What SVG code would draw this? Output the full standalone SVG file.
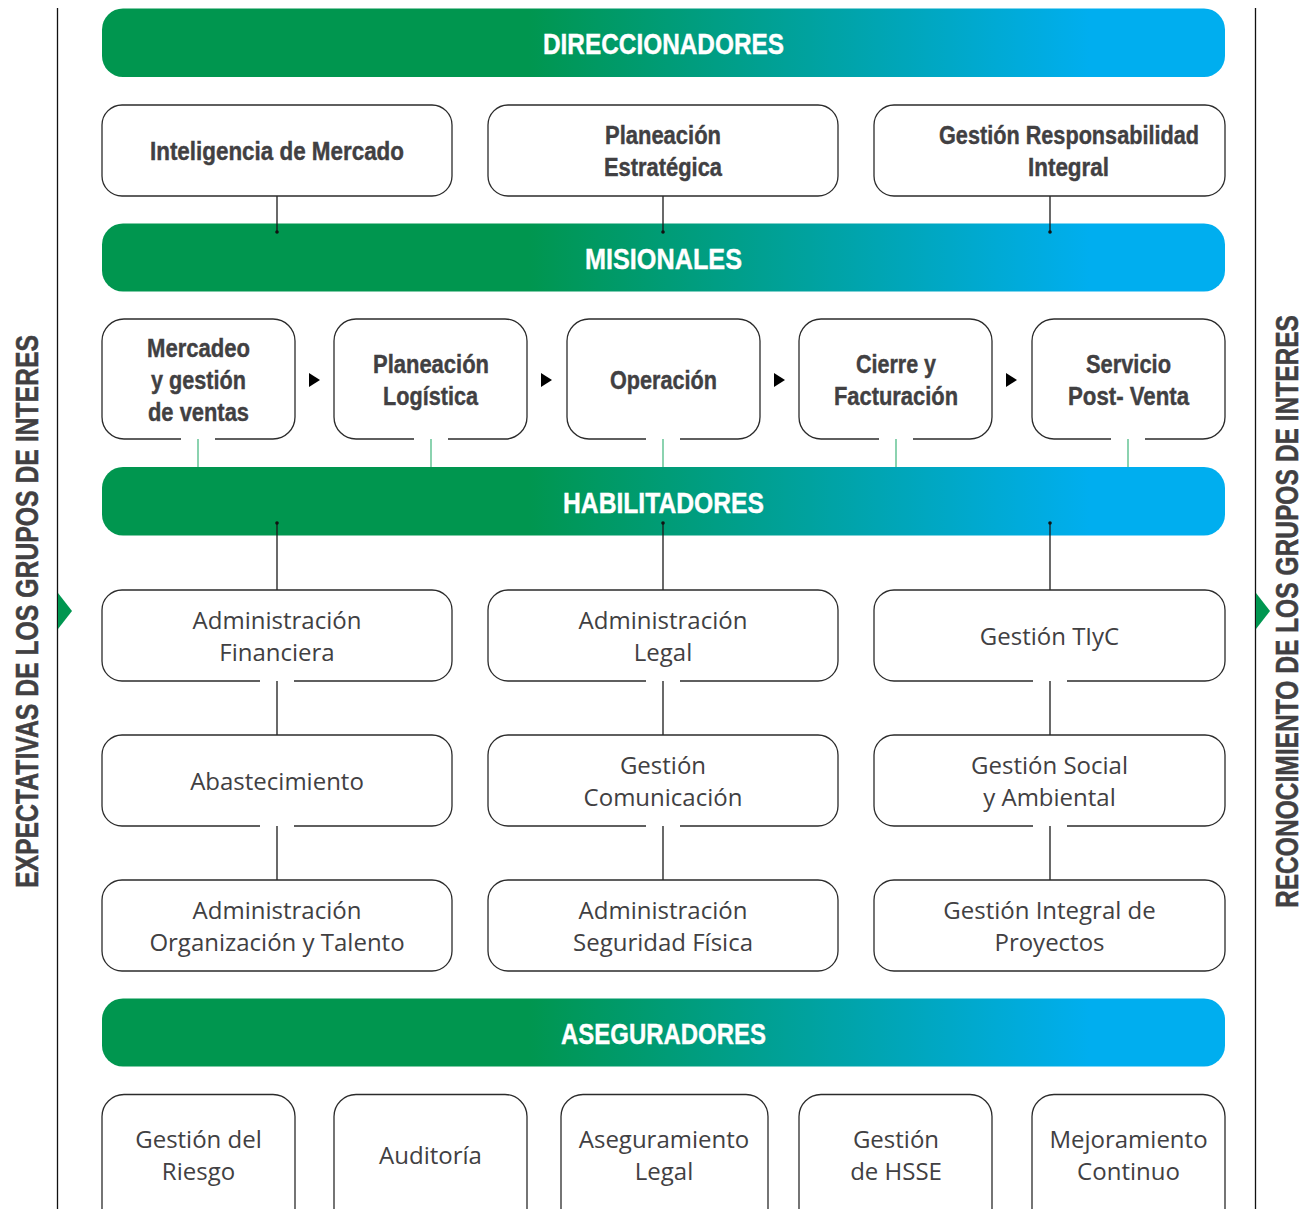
<svg xmlns="http://www.w3.org/2000/svg" width="1314" height="1209" viewBox="0 0 1314 1209">
<style>
.band{fill:url(#g)}
.bt{font-family:"Liberation Sans",Arial,sans-serif;font-weight:bold;font-size:30px;fill:#fff;stroke:#fff;stroke-width:0.4;text-anchor:middle}
.box{fill:#fff;stroke:#2b2b2b;stroke-width:1.3}
.b{font-family:"Liberation Sans",Arial,sans-serif;font-weight:bold;font-size:25px;fill:#414042;stroke:#414042;stroke-width:0.4;text-anchor:middle}
.r{font-family:"Open Sans","Liberation Sans",sans-serif;font-size:24px;fill:#414042;text-anchor:middle}
.side{font-family:"Liberation Sans",Arial,sans-serif;font-weight:bold;font-size:31px;fill:#414042;stroke:#414042;stroke-width:0.5;text-anchor:middle}
.c{stroke:#1a1a1a;stroke-width:1.3;fill:none}
.cg{stroke:#4dbb85;stroke-width:1.3;fill:none}
.dot{fill:#111}
.dotg{fill:#00a651}
.tri{fill:#009650}
.ar{fill:#000}
</style>
<defs>
<linearGradient id="g" gradientUnits="userSpaceOnUse" x1="102" y1="0" x2="1225" y2="0">
<stop offset="0" stop-color="#00964f"/>
<stop offset="0.38" stop-color="#00964f"/>
<stop offset="0.88" stop-color="#00aeef"/>
<stop offset="1" stop-color="#00aeef"/>
</linearGradient>
</defs>

<g id="frame">
<line x1="57.5" y1="8" x2="57.5" y2="1209" stroke="#111" stroke-width="1.3"/>
<line x1="1255.5" y1="8" x2="1255.5" y2="1209" stroke="#111" stroke-width="1.3"/>
<polygon class="tri" points="58,593 72,611 58,629"/>
<polygon class="tri" points="1256,593 1270,611 1256,629"/>
<text class="side" transform="translate(38,611.5) rotate(-90)" textLength="553" lengthAdjust="spacingAndGlyphs">EXPECTATIVAS DE LOS GRUPOS DE INTERES</text>
<text class="side" transform="translate(1298,611.5) rotate(-90)" textLength="593" lengthAdjust="spacingAndGlyphs">RECONOCIMIENTO DE LOS GRUPOS DE INTERES</text>
</g>

<g id="band-direccionadores">
<rect class="band" x="102" y="8.5" width="1123" height="68.5" rx="21"/>
<text class="bt" x="663.5" y="54" textLength="241" lengthAdjust="spacingAndGlyphs">DIRECCIONADORES</text>
</g>
<g id="band-misionales">
<rect class="band" x="102" y="223.5" width="1123" height="68" rx="21"/>
<text class="bt" x="663.5" y="269" textLength="157" lengthAdjust="spacingAndGlyphs">MISIONALES</text>
</g>
<g id="band-habilitadores">
<rect class="band" x="102" y="467" width="1123" height="68.5" rx="21"/>
<text class="bt" x="663.5" y="513" textLength="201" lengthAdjust="spacingAndGlyphs">HABILITADORES</text>
</g>
<g id="band-aseguradores">
<rect class="band" x="102" y="998.5" width="1123" height="68" rx="21"/>
<text class="bt" x="663.5" y="1044" textLength="205" lengthAdjust="spacingAndGlyphs">ASEGURADORES</text>
</g>

<g id="connectors">
<line class="c" x1="277" y1="196" x2="277" y2="232"/><circle class="dot" cx="277" cy="232" r="1.8"/>
<line class="c" x1="663" y1="196" x2="663" y2="232"/><circle class="dot" cx="663" cy="232" r="1.8"/>
<line class="c" x1="1050" y1="196" x2="1050" y2="232"/><circle class="dot" cx="1050" cy="232" r="1.8"/>
<line class="cg" x1="198" y1="431" x2="198" y2="467"/><circle class="dotg" cx="198" cy="431" r="1.6"/>
<line class="cg" x1="431" y1="431" x2="431" y2="467"/><circle class="dotg" cx="431" cy="431" r="1.6"/>
<line class="cg" x1="663" y1="431" x2="663" y2="467"/><circle class="dotg" cx="663" cy="431" r="1.6"/>
<line class="cg" x1="896" y1="431" x2="896" y2="467"/><circle class="dotg" cx="896" cy="431" r="1.6"/>
<line class="cg" x1="1128" y1="431" x2="1128" y2="467"/><circle class="dotg" cx="1128" cy="431" r="1.6"/>
<line class="c" x1="277" y1="523" x2="277" y2="590"/><circle class="dot" cx="277" cy="523" r="1.8"/>
<line class="c" x1="663" y1="523" x2="663" y2="590"/><circle class="dot" cx="663" cy="523" r="1.8"/>
<line class="c" x1="1050" y1="523" x2="1050" y2="590"/><circle class="dot" cx="1050" cy="523" r="1.8"/>
<line class="c" x1="277" y1="676" x2="277" y2="735"/><circle class="dot" cx="277" cy="676" r="1.8"/>
<line class="c" x1="663" y1="676" x2="663" y2="735"/><circle class="dot" cx="663" cy="676" r="1.8"/>
<line class="c" x1="1050" y1="676" x2="1050" y2="735"/><circle class="dot" cx="1050" cy="676" r="1.8"/>
<line class="c" x1="277" y1="821" x2="277" y2="880"/><circle class="dot" cx="277" cy="821" r="1.8"/>
<line class="c" x1="663" y1="821" x2="663" y2="880"/><circle class="dot" cx="663" cy="821" r="1.8"/>
<line class="c" x1="1050" y1="821" x2="1050" y2="880"/><circle class="dot" cx="1050" cy="821" r="1.8"/>
<polygon class="ar" points="309,373 320,380 309,387"/>
<polygon class="ar" points="541,373 552,380 541,387"/>
<polygon class="ar" points="774,373 785,380 774,387"/>
<polygon class="ar" points="1006,373 1017,380 1006,387"/>
</g>

<g id="inteligencia-mercado">
<rect class="box" x="102" y="105" width="350" height="91" rx="20"/>
<text class="b" x="277" y="160" textLength="254" lengthAdjust="spacingAndGlyphs">Inteligencia de Mercado</text>
</g>
<g id="planeacion-estrategica">
<rect class="box" x="488" y="105" width="350" height="91" rx="20"/>
<text class="b" x="663" y="144" textLength="116" lengthAdjust="spacingAndGlyphs">Planeación</text>
<text class="b" x="663" y="176" textLength="118" lengthAdjust="spacingAndGlyphs">Estratégica</text>
</g>
<g id="gestion-responsabilidad">
<rect class="box" x="874" y="105" width="351" height="91" rx="20"/>
<text class="b" x="1069" y="144" textLength="260" lengthAdjust="spacingAndGlyphs">Gestión Responsabilidad</text>
<text class="b" x="1068.5" y="176" textLength="81" lengthAdjust="spacingAndGlyphs">Integral</text>
</g>

<g id="mercadeo">
<path class="box" d="M215,439 H273 A22,22 0 0 0 295,417 V341 A22,22 0 0 0 273,319 H124 A22,22 0 0 0 102,341 V417 A22,22 0 0 0 124,439 H181"/>
<text class="b" x="198.5" y="357" textLength="103" lengthAdjust="spacingAndGlyphs">Mercadeo</text>
<text class="b" x="198.5" y="389" textLength="95" lengthAdjust="spacingAndGlyphs">y gestión</text>
<text class="b" x="198.5" y="421" textLength="101" lengthAdjust="spacingAndGlyphs">de ventas</text>
</g>
<g id="planeacion-logistica">
<path class="box" d="M448,439 H505 A22,22 0 0 0 527,417 V341 A22,22 0 0 0 505,319 H356 A22,22 0 0 0 334,341 V417 A22,22 0 0 0 356,439 H414"/>
<text class="b" x="431" y="373" textLength="116" lengthAdjust="spacingAndGlyphs">Planeación</text>
<text class="b" x="430.5" y="405" textLength="95" lengthAdjust="spacingAndGlyphs">Logística</text>
</g>
<g id="operacion">
<path class="box" d="M680,439 H738 A22,22 0 0 0 760,417 V341 A22,22 0 0 0 738,319 H589 A22,22 0 0 0 567,341 V417 A22,22 0 0 0 589,439 H646"/>
<text class="b" x="663.5" y="389" textLength="107" lengthAdjust="spacingAndGlyphs">Operación</text>
</g>
<g id="cierre-facturacion">
<path class="box" d="M913,439 H970 A22,22 0 0 0 992,417 V341 A22,22 0 0 0 970,319 H821 A22,22 0 0 0 799,341 V417 A22,22 0 0 0 821,439 H879"/>
<text class="b" x="896" y="373" textLength="80" lengthAdjust="spacingAndGlyphs">Cierre y</text>
<text class="b" x="896" y="405" textLength="124" lengthAdjust="spacingAndGlyphs">Facturación</text>
</g>
<g id="servicio-postventa">
<path class="box" d="M1145,439 H1203 A22,22 0 0 0 1225,417 V341 A22,22 0 0 0 1203,319 H1054 A22,22 0 0 0 1032,341 V417 A22,22 0 0 0 1054,439 H1111"/>
<text class="b" x="1128.5" y="373" textLength="85" lengthAdjust="spacingAndGlyphs">Servicio</text>
<text class="b" x="1128.5" y="405" textLength="121" lengthAdjust="spacingAndGlyphs">Post- Venta</text>
</g>

<g id="admin-financiera">
<path class="box" d="M294,681 H432 A20,20 0 0 0 452,661 V610 A20,20 0 0 0 432,590 H122 A20,20 0 0 0 102,610 V661 A20,20 0 0 0 122,681 H260"/>
<text class="r" x="277" y="629">Administración</text>
<text class="r" x="277" y="661">Financiera</text>
</g>
<g id="admin-legal">
<path class="box" d="M680,681 H818 A20,20 0 0 0 838,661 V610 A20,20 0 0 0 818,590 H508 A20,20 0 0 0 488,610 V661 A20,20 0 0 0 508,681 H646"/>
<text class="r" x="663" y="629">Administración</text>
<text class="r" x="663" y="661">Legal</text>
</g>
<g id="gestion-tic">
<path class="box" d="M1067,681 H1205 A20,20 0 0 0 1225,661 V610 A20,20 0 0 0 1205,590 H894 A20,20 0 0 0 874,610 V661 A20,20 0 0 0 894,681 H1033"/>
<text class="r" x="1049.5" y="645">Gestión TIyC</text>
</g>

<g id="abastecimiento">
<path class="box" d="M294,826 H432 A20,20 0 0 0 452,806 V755 A20,20 0 0 0 432,735 H122 A20,20 0 0 0 102,755 V806 A20,20 0 0 0 122,826 H260"/>
<text class="r" x="277" y="790">Abastecimiento</text>
</g>
<g id="gestion-comunicacion">
<path class="box" d="M680,826 H818 A20,20 0 0 0 838,806 V755 A20,20 0 0 0 818,735 H508 A20,20 0 0 0 488,755 V806 A20,20 0 0 0 508,826 H646"/>
<text class="r" x="663" y="774">Gestión</text>
<text class="r" x="663" y="806">Comunicación</text>
</g>
<g id="gestion-social">
<path class="box" d="M1067,826 H1205 A20,20 0 0 0 1225,806 V755 A20,20 0 0 0 1205,735 H894 A20,20 0 0 0 874,755 V806 A20,20 0 0 0 894,826 H1033"/>
<text class="r" x="1049.5" y="774">Gestión Social</text>
<text class="r" x="1049.5" y="806">y Ambiental</text>
</g>

<g id="admin-talento">
<rect class="box" x="102" y="880" width="350" height="91" rx="20"/>
<text class="r" x="277" y="919">Administración</text>
<text class="r" x="277" y="951">Organización y Talento</text>
</g>
<g id="admin-seguridad">
<rect class="box" x="488" y="880" width="350" height="91" rx="20"/>
<text class="r" x="663" y="919">Administración</text>
<text class="r" x="663" y="951">Seguridad Física</text>
</g>
<g id="gestion-proyectos">
<rect class="box" x="874" y="880" width="351" height="91" rx="20"/>
<text class="r" x="1049.5" y="919">Gestión Integral de</text>
<text class="r" x="1049.5" y="951">Proyectos</text>
</g>

<g id="gestion-riesgo">
<rect class="box" x="102" y="1094.5" width="193" height="140" rx="22"/>
<text class="r" x="198.5" y="1148">Gestión del</text>
<text class="r" x="198.5" y="1180">Riesgo</text>
</g>
<g id="auditoria">
<rect class="box" x="334" y="1094.5" width="193" height="140" rx="22"/>
<text class="r" x="430.5" y="1164">Auditoría</text>
</g>
<g id="aseguramiento-legal">
<rect class="box" x="561" y="1094.5" width="207" height="140" rx="22"/>
<text class="r" x="664" y="1148">Aseguramiento</text>
<text class="r" x="664" y="1180">Legal</text>
</g>
<g id="gestion-hsse">
<rect class="box" x="799" y="1094.5" width="193" height="140" rx="22"/>
<text class="r" x="896" y="1148">Gestión</text>
<text class="r" x="896" y="1180">de HSSE</text>
</g>
<g id="mejoramiento-continuo">
<rect class="box" x="1032" y="1094.5" width="193" height="140" rx="22"/>
<text class="r" x="1128.5" y="1148">Mejoramiento</text>
<text class="r" x="1128.5" y="1180">Continuo</text>
</g>
</svg>
